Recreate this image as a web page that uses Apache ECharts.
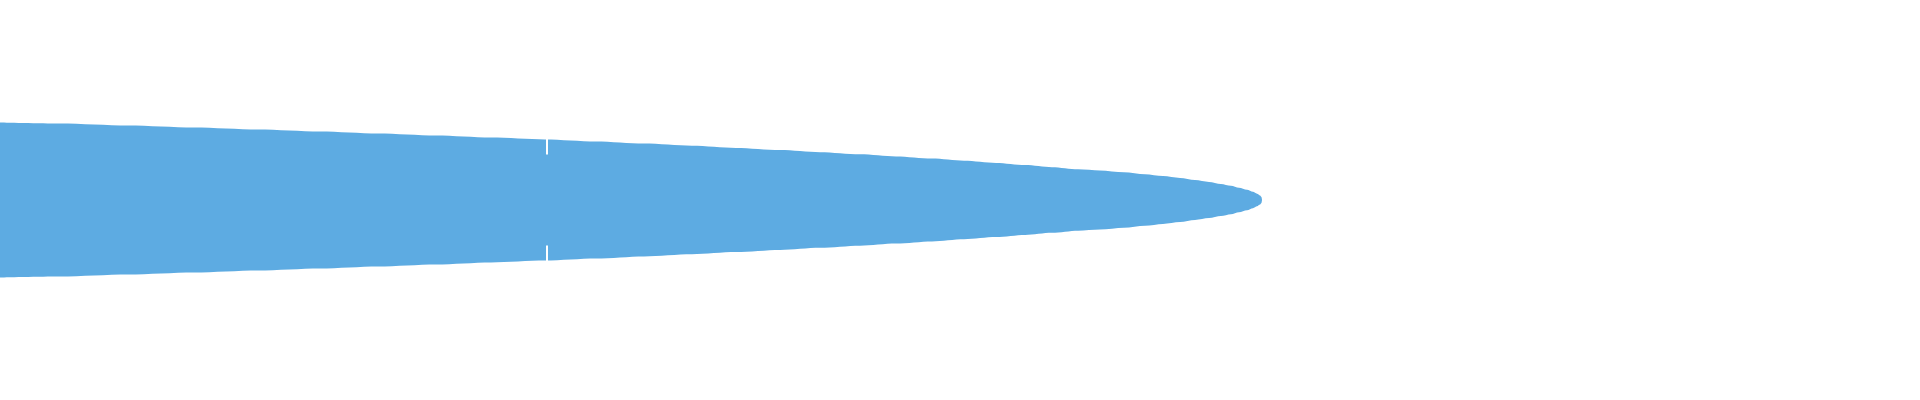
<!DOCTYPE html>
<html>
<head>
<meta charset="utf-8">
<script src="https://cdn.jsdelivr.net/npm/echarts@6/dist/echarts.min.js"></script>
<style>
html,body{margin:0;padding:0;background:#fff;}
#chart{width:1920px;height:400px;}
</style>
</head>
<body>
<div id="chart"></div>
<script>
// positions along the flow (x axis units, 0..100)
var positions = [0, 3.13, 6.67, 10.1, 13.44, 16.67, 19.69, 22.71, 25.57, 28.39, 31.04, 33.54, 36.04, 38.33, 40.63, 42.71, 44.79, 46.67, 48.54, 50.21, 51.88, 53.39, 54.79, 56.15, 57.29, 58.54, 59.64, 60.57, 61.46, 62.24, 62.97, 63.59, 64.11, 64.53, 64.95, 65.26, 65.47, 65.63, 65.7, 65.73];
// half-width of the band at each position (y axis units)
var halfWidths = [19.35, 19.1, 18.6, 18.1, 17.6, 17.1, 16.6, 16.1, 15.6, 15.13, 14.63, 14.1, 13.58, 13.03, 12.48, 11.95, 11.43, 10.88, 10.35, 9.83, 9.28, 8.73, 8.2, 7.68, 7.4, 6.95, 6.45, 5.98, 5.5, 5.0, 4.53, 4.03, 3.55, 3.05, 2.55, 2.05, 1.58, 1.15, 0.75, 0];
// divider position and its depth into the band
var dividerAt = 28.49;
var dividerHalf = 15.1;
var dividerDepth = 3.75;

var color = '#5dabe2';

var upperEdge = positions.map(function (x, i) { return [x, halfWidths[i]]; });
var lowerEdge = positions.map(function (x, i) { return [x, -halfWidths[i]]; });

function half(data) {
  return {
    type: 'line', smooth: 0.3, smoothMonotone: 'x', data: data,
    showSymbol: false, symbol: 'none',
    lineStyle: { width: 0, opacity: 0 },
    areaStyle: { color: color, opacity: 1, origin: 0 },
    silent: true
  };
}

var chart = echarts.init(document.getElementById('chart'));
chart.setOption({
  animation: false,
  grid: { left: 0, right: 0, top: 0, bottom: 0, containLabel: false },
  xAxis: { type: 'value', min: 0, max: 100, show: false },
  yAxis: { type: 'value', min: -50, max: 50, show: false },
  series: [
    half(upperEdge),
    half(lowerEdge),
    {
      type: 'line', data: [[dividerAt, 0]], showSymbol: false, symbol: 'none',
      lineStyle: { opacity: 0 }, silent: true, z: 5,
      markLine: {
        silent: true, symbol: 'none', animation: false,
        label: { show: false },
        lineStyle: { color: '#ffffff', width: 2, type: 'solid', opacity: 1 },
        data: [
          [{ coord: [dividerAt, dividerHalf + 1] }, { coord: [dividerAt, dividerHalf - dividerDepth] }],
          [{ coord: [dividerAt, -dividerHalf - 1] }, { coord: [dividerAt, -dividerHalf + dividerDepth] }]
        ]
      }
    }
  ]
});
</script>
</body>
</html>
